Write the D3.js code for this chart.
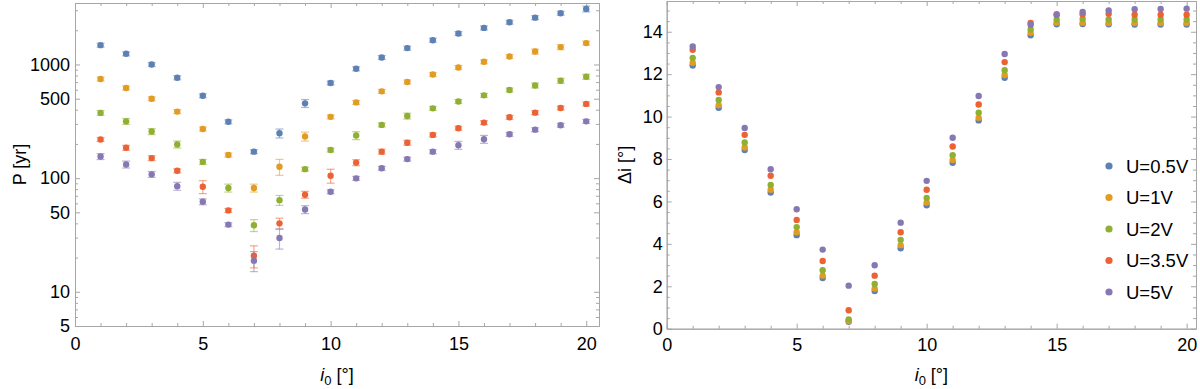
<!DOCTYPE html>
<html>
<head>
<meta charset="utf-8">
<script src="https://cdn.jsdelivr.net/npm/d3@7"></script>
<style>
  body { margin: 0; background: #fff; }
  svg { display: block; font-family: "Liberation Sans", Arial, sans-serif; }
  .axis path, .axis line { stroke: #a6a6a6; }
  .axis text { fill: #000; font-size: 18px; }
</style>
</head>
<body>
<svg id="chart" width="1200" height="389"></svg>
<script>
// inclination steps (deg)
const i0 = [1, 2, 3, 4, 5, 6, 7, 8, 9, 10, 11, 12, 13, 14, 15, 16, 17, 18, 19, 20];

const seriesNames = ['U=0.5V', 'U=1V', 'U=2V', 'U=3.5V', 'U=5V'];
const colors = ['#5e81b5', '#e19c24', '#8fb032', '#eb6235', '#8778b3'];

// period P [yr], one list per voltage
const periodU05 = [1480, 1241, 1000, 764, 531, 313, 171, 248, 455, 687, 917, 1152, 1393, 1636, 1871, 2098, 2354, 2583, 2825, 3083];
const periodU1  = [745, 621, 500, 385, 271, 160, 82, 126, 233, 346, 464, 580, 702, 817, 941, 1056, 1176, 1300, 1422, 1542];
const periodU2  = [375, 316, 257, 198, 139, 82, 38.5, 64, 120, 177, 237, 294, 352, 411, 473, 535, 596, 654, 719, 780];
const periodU35 = [219, 185, 150, 116, 84, 52, 20.8, 40, 71.5, 105, 137, 171, 205, 240, 275, 308, 343, 377, 414, 450];
const periodU5  = [155, 132, 108, 85, 62, 39, 18.8, 29.7, 53, 76, 99.6, 122, 147, 171, 195, 220, 243, 267, 292, 316];

// relative errors on P
const errU05 = [0.04, 0.04, 0.04, 0.04, 0.04, 0.04, 0.04, 0.09, 0.08, 0.04, 0.04, 0.04, 0.04, 0.04, 0.04, 0.04, 0.04, 0.04, 0.04, 0.06];
const errU1  = [0.04, 0.04, 0.04, 0.04, 0.04, 0.04, 0.08, 0.16, 0.09, 0.04, 0.04, 0.04, 0.04, 0.04, 0.04, 0.04, 0.04, 0.05, 0.05, 0.04];
const errU2  = [0.05, 0.06, 0.06, 0.07, 0.05, 0.08, 0.12, 0.10, 0.04, 0.04, 0.08, 0.04, 0.06, 0.04, 0.04, 0.04, 0.04, 0.05, 0.05, 0.05];
const errU35 = [0.04, 0.05, 0.05, 0.04, 0.13, 0.04, 0.22, 0.11, 0.07, 0.14, 0.06, 0.05, 0.05, 0.04, 0.04, 0.04, 0.04, 0.04, 0.04, 0.04];
const errU5  = [0.06, 0.07, 0.06, 0.08, 0.06, 0.04, 0.20, 0.20, 0.08, 0.04, 0.04, 0.04, 0.04, 0.04, 0.08, 0.08, 0.04, 0.04, 0.04, 0.04];

// inclination change Δi [deg]
const dIncU05 = [12.41, 10.42, 8.42, 6.42, 4.41, 2.39, 0.33, 1.78, 3.79, 5.82, 7.82, 9.82, 11.83, 13.83, 14.35, 14.36, 14.35, 14.34, 14.34, 14.34];
const dIncU1  = [12.54, 10.54, 8.54, 6.55, 4.55, 2.50, 0.36, 1.89, 3.94, 5.95, 7.95, 9.94, 11.96, 13.95, 14.43, 14.43, 14.41, 14.41, 14.41, 14.41];
const dIncU2  = [12.77, 10.78, 8.78, 6.78, 4.79, 2.76, 0.44, 2.11, 4.19, 6.17, 8.18, 10.18, 12.19, 14.11, 14.57, 14.60, 14.58, 14.58, 14.58, 14.58];
const dIncU35 = [13.15, 11.14, 9.14, 7.21, 5.13, 3.19, 0.87, 2.50, 4.55, 6.55, 8.59, 10.57, 12.57, 14.41, 14.83, 14.82, 14.85, 14.80, 14.80, 14.80];
const dIncU5  = [13.31, 11.39, 9.46, 7.52, 5.63, 3.73, 2.03, 2.99, 5.00, 6.97, 9.00, 10.97, 12.95, 14.33, 14.79, 14.93, 15.01, 15.06, 15.07, 15.09];

const periods = [periodU05, periodU1, periodU2, periodU35, periodU5];
const periodErrs = [errU05, errU1, errU2, errU35, errU5];
const dIncs = [dIncU05, dIncU1, dIncU2, dIncU35, dIncU5];

const svg = d3.select('#chart');

function drawFrame(g, x, y, xMajor, xMinor, yMajor, yMinor, yFmt, xPad, yPad) {
  const [x0, x1] = x.range();
  const [y0, y1] = y.range();
  const add = (axis, tr) => g.append('g').attr('class', 'axis').attr('transform', tr).call(axis);

  add(d3.axisBottom(x).tickValues(xMajor).tickSize(-5).tickSizeOuter(0).tickPadding(xPad).tickFormat(d3.format('d')), `translate(0,${y0})`);
  add(d3.axisBottom(x).tickValues(xMinor).tickSize(-3).tickSizeOuter(0).tickFormat(''), `translate(0,${y0})`);
  add(d3.axisTop(x).tickValues(xMajor).tickSize(-5).tickSizeOuter(0).tickFormat(''), `translate(0,${y1})`);
  add(d3.axisTop(x).tickValues(xMinor).tickSize(-3).tickSizeOuter(0).tickFormat(''), `translate(0,${y1})`);

  add(d3.axisLeft(y).tickValues(yMajor).tickSize(-5).tickSizeOuter(0).tickPadding(yPad).tickFormat(yFmt), `translate(${x0},0)`);
  add(d3.axisLeft(y).tickValues(yMinor).tickSize(-3).tickSizeOuter(0).tickFormat(''), `translate(${x0},0)`);
  add(d3.axisRight(y).tickValues(yMajor).tickSize(-5).tickSizeOuter(0).tickFormat(''), `translate(${x1},0)`);
  add(d3.axisRight(y).tickValues(yMinor).tickSize(-3).tickSizeOuter(0).tickFormat(''), `translate(${x1},0)`);

  g.selectAll('.axis .domain').attr('stroke', '#a6a6a6');
}

function xLabel(g, cx, cy) {
  const t = g.append('text').attr('x', cx).attr('y', cy)
    .attr('text-anchor', 'middle').style('font-size', '18px');
  t.append('tspan').style('font-style', 'italic').text('i');
  t.append('tspan').attr('dy', 4).style('font-size', '13px').text('0');
  t.append('tspan').attr('dy', -4).text(' [°]');
}

// ---- left panel: P vs i0 (log) ----
const xL = d3.scaleLinear().domain([0, 20.5]).range([75, 599]);
const yL = d3.scaleLog().domain([5, 3475]).range([326, 3]);
const gL = svg.append('g');

drawFrame(gL, xL, yL,
  [0, 5, 10, 15, 20], d3.range(1, 21).filter(d => d % 5),
  [5, 10, 50, 100, 500, 1000],
  [6, 7, 8, 9, 20, 30, 40, 60, 70, 80, 90, 200, 300, 400, 600, 700, 800, 900, 2000, 3000],
  d3.format('d'), 11, 5);

periods.forEach((vals, s) => {
  const pts = vals.map((v, k) => ({x: i0[k], v, e: v * periodErrs[s][k]}));
  const eg = gL.append('g').attr('stroke', colors[s]).attr('stroke-opacity', 0.55).attr('stroke-width', 1.2);
  const bars = eg.selectAll('g').data(pts).join('g');
  bars.append('line')
    .attr('x1', d => xL(d.x)).attr('x2', d => xL(d.x))
    .attr('y1', d => yL(d.v - d.e)).attr('y2', d => yL(d.v + d.e));
  bars.append('line')
    .attr('x1', d => xL(d.x) - 4).attr('x2', d => xL(d.x) + 4)
    .attr('y1', d => yL(d.v - d.e)).attr('y2', d => yL(d.v - d.e));
  bars.append('line')
    .attr('x1', d => xL(d.x) - 4).attr('x2', d => xL(d.x) + 4)
    .attr('y1', d => yL(d.v + d.e)).attr('y2', d => yL(d.v + d.e));
  gL.append('g').selectAll('circle').data(pts).join('circle')
    .attr('cx', d => xL(d.x)).attr('cy', d => yL(d.v))
    .attr('r', 3.2).attr('fill', colors[s]);
});

gL.append('text')
  .attr('transform', `translate(26,${(326 + 3) / 2}) rotate(-90)`)
  .attr('text-anchor', 'middle').style('font-size', '18px').text('P [yr]');
xLabel(gL, (75 + 599) / 2, 381);

// ---- right panel: Δi vs i0 ----
const xR = d3.scaleLinear().domain([0, 20.36]).range([666.7, 1196]);
const yR = d3.scaleLinear().domain([0, 15.45]).range([328.7, 1]);
const gR = svg.append('g');

drawFrame(gR, xR, yR,
  [0, 5, 10, 15, 20], d3.range(1, 21).filter(d => d % 5),
  [0, 2, 4, 6, 8, 10, 12, 14],
  d3.range(0.5, 15.5, 0.5).filter(d => d % 2 !== 0),
  d3.format('d'), 10, 4);

dIncs.forEach((vals, s) => {
  gR.append('g').selectAll('circle').data(vals.map((v, k) => ({x: i0[k], v})))
    .join('circle')
    .attr('cx', d => xR(d.x)).attr('cy', d => yR(d.v))
    .attr('r', 3.2).attr('fill', colors[s]);
});

gR.append('text')
  .attr('transform', `translate(631,${(328.7 + 1) / 2}) rotate(-90)`)
  .attr('text-anchor', 'middle').style('font-size', '18px').text('Δi [°]');
xLabel(gR, (666.7 + 1196) / 2, 381);

// legend
const legend = gR.append('g').attr('transform', 'translate(1109,166)');
const item = legend.selectAll('g').data(seriesNames).join('g')
  .attr('transform', (d, k) => `translate(0,${k * 31.5})`);
item.append('circle').attr('r', 3.6).attr('fill', (d, k) => colors[k]);
item.append('text').attr('x', 17).attr('dy', '0.36em')
  .style('font-size', '18.5px').text(d => d);
</script>
</body>
</html>
